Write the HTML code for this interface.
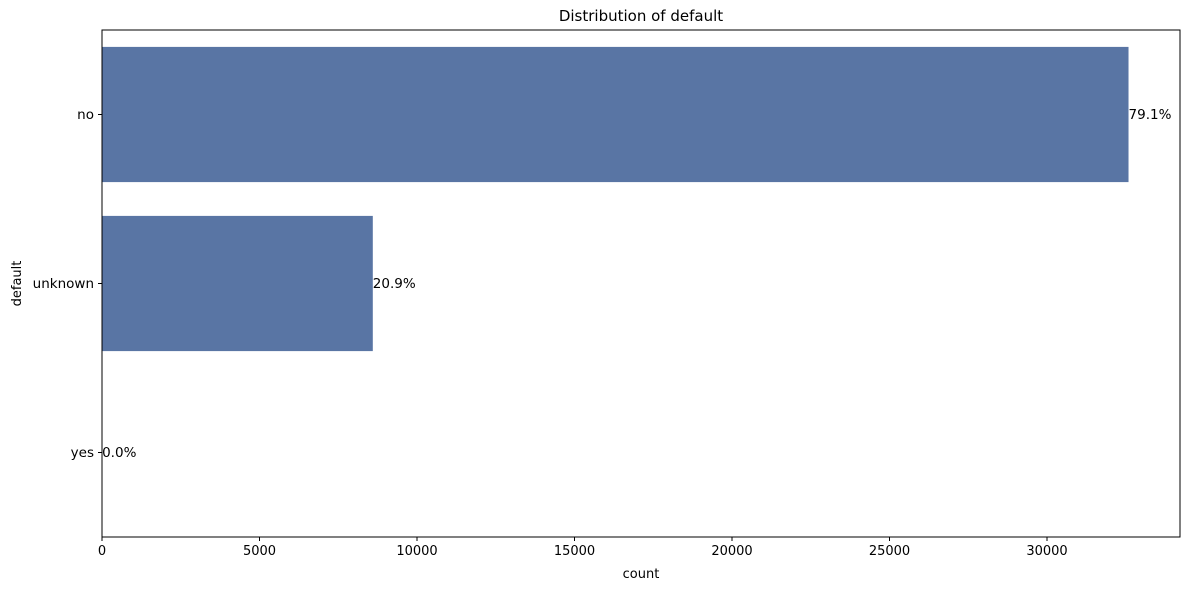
<!DOCTYPE html>
<html><head><meta charset="utf-8"><style>
body{margin:0;background:#fff;font-family:"Liberation Sans","DejaVu Sans",sans-serif;}
</style></head><body>
<svg id="chart" width="1189" height="590" xmlns="http://www.w3.org/2000/svg" font-family="DejaVu Sans, Liberation Sans, sans-serif">
<text x="641" y="21" font-size="15" text-anchor="middle">Distribution of default</text>
<g id="plot"></g>
<text x="641" y="578" font-size="13" text-anchor="middle">count</text>
<text transform="translate(21,283.5) rotate(-90)" font-size="13" text-anchor="middle">default</text>
</svg>
<script>
const categories=["no","unknown","yes"];
const counts=[32588,8597,3];
const labels=["79.1%","20.9%","0.0%"];
const xTicks=[0,5000,10000,15000,20000,25000,30000];
const L=102,R=1180,T=30,B=537,pxPer=157.5/5000;
const svg=document.getElementById('plot'),NS="http://www.w3.org/2000/svg";
const x=v=>L+v*pxPer;
const band=(B-T)/categories.length;
const yc=i=>T+band*(i+0.5);
function mk(t,a){const e=document.createElementNS(NS,t);for(const k in a)e.setAttribute(k,a[k]);svg.appendChild(e);return e;}
categories.forEach((c,i)=>{
 const r=mk('rect',{x:L,y:yc(i)-band*0.4,width:x(counts[i])-L,height:band*0.8,fill:'#5975a4'});
 
 
 const t=mk('text',{x:x(counts[i]),y:yc(i)+4.5,'font-size':13.5});t.textContent=labels[i];
 
 
 const tk=mk('line',{x1:L-4,x2:L,y1:yc(i),y2:yc(i),stroke:'#000'});
 
 
 const tl=mk('text',{x:L-8,y:yc(i)+4.5,'font-size':13.5,'text-anchor':'end'});tl.textContent=c;
 
 
});
xTicks.forEach(v=>{
 const tk=mk('line',{x1:x(v),x2:x(v),y1:B,y2:B+4,stroke:'#000'});
 
 
 const tl=mk('text',{x:x(v),y:B+18,'font-size':13,'text-anchor':'middle'});tl.textContent=v;
 
 
});
const fr=mk('rect',{x:L,y:T,width:R-L,height:B-T,fill:'none',stroke:'#000','stroke-width':1});


</script>
</body></html>
